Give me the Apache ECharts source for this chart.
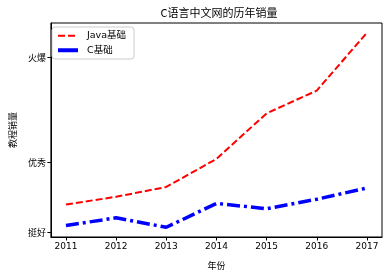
<!DOCTYPE html>
<html><head><meta charset="utf-8">
<script src="https://cdn.jsdelivr.net/npm/echarts@6/dist/echarts.min.js"></script>
<style>html,body{margin:0;padding:0;background:#fff}#c{width:389px;height:275px}</style>
</head><body><div id="c"></div>
<script>
const years = [2011, 2012, 2013, 2014, 2015, 2016, 2017];
const javaSales = [58000, 60200, 63000, 71000, 84000, 90500, 107000];
const cSales = [52000, 54200, 51500, 58300, 56800, 59500, 62700];
const yTickValues = [50000, 70000, 100000];
const yTickLabels = ['挺好', '优秀', '火爆'];
const seriesNames = ['Java基础', 'C基础'];
const titleText = 'C语言中文网的历年销量';
const xName = '年份';
const yName = '教程销量';

const FONT = '"DejaVu Sans", "Noto Sans CJK SC", sans-serif';
const CJK = '"Noto Sans CJK SC", sans-serif';
const chart = echarts.init(document.getElementById('c'), null, {renderer: 'canvas'});
chart.setOption({
  animation: false,
  backgroundColor: '#fff',
  title: {text: titleText, left: 214, textAlign: 'center', top: 2,
    textStyle: {fontFamily: CJK, fontSize: 11, fontWeight: 'normal', color: '#000'}},
  grid: {left: 47, right: 7, top: 23, bottom: 36, show: true, borderColor: '#000', borderWidth: 1, backgroundColor: 'transparent'},
  legend: {
    orient: 'vertical', left: 52, top: 27, padding: [4, 8, 4, 4], itemGap: 5,
    itemWidth: 20, itemHeight: 10,
    itemStyle: {opacity: 0, borderWidth: 0},
    backgroundColor: '#fff', borderColor: '#ccc', borderWidth: 1, borderRadius: 3,
    textStyle: {fontFamily: FONT, fontSize: 9.5, color: '#000', padding: [0, 0, 0, 4]},
    data: [{name: seriesNames[0]}, {name: seriesNames[1], lineStyle: {type: 'solid', width: 4}}]
  },
  xAxis: {
    type: 'value', min: 2010.7, max: 2017.3,
    name: xName, nameLocation: 'middle', nameGap: 24,
    nameTextStyle: {fontFamily: CJK, fontSize: 9, color: '#000'},
    axisLine: {show: true, onZero: false, lineStyle: {color: '#000', width: 1}},
    axisTick: {show: true, length: 3.5, customValues: years, lineStyle: {color: '#000'}},
    axisLabel: {customValues: years, fontFamily: FONT, fontSize: 9, color: '#000', margin: 5,
      formatter: v => String(Math.round(v))},
    splitLine: {show: false}
  },
  yAxis: {
    type: 'value', min: 48725, max: 109775,
    name: yName, nameLocation: 'middle', nameGap: 33, nameRotate: 90,
    nameTextStyle: {fontFamily: CJK, fontSize: 9, color: '#000'},
    axisLine: {show: true, lineStyle: {color: '#000', width: 1}},
    axisTick: {show: true, length: 3.5, customValues: yTickValues, lineStyle: {color: '#000'}},
    axisLabel: {customValues: yTickValues, fontFamily: CJK, fontSize: 9, color: '#000', margin: 5,
      formatter: v => yTickLabels[yTickValues.indexOf(v)] || ''},
    splitLine: {show: false}
  },
  series: [
    {name: seriesNames[0], type: 'line', symbol: 'none', data: years.map((y, i) => [y, javaSales[i]]),
      lineStyle: {color: '#ff0000', width: 2, type: [7, 3]}, itemStyle: {color: '#ff0000'}},
    {name: seriesNames[1], type: 'line', symbol: 'none', data: years.map((y, i) => [y, cSales[i]]),
      lineStyle: {color: '#0000ff', width: 3.5, type: [13, 4, 3, 4]}, itemStyle: {color: '#0000ff'}}
  ]
});
</script></body></html>
